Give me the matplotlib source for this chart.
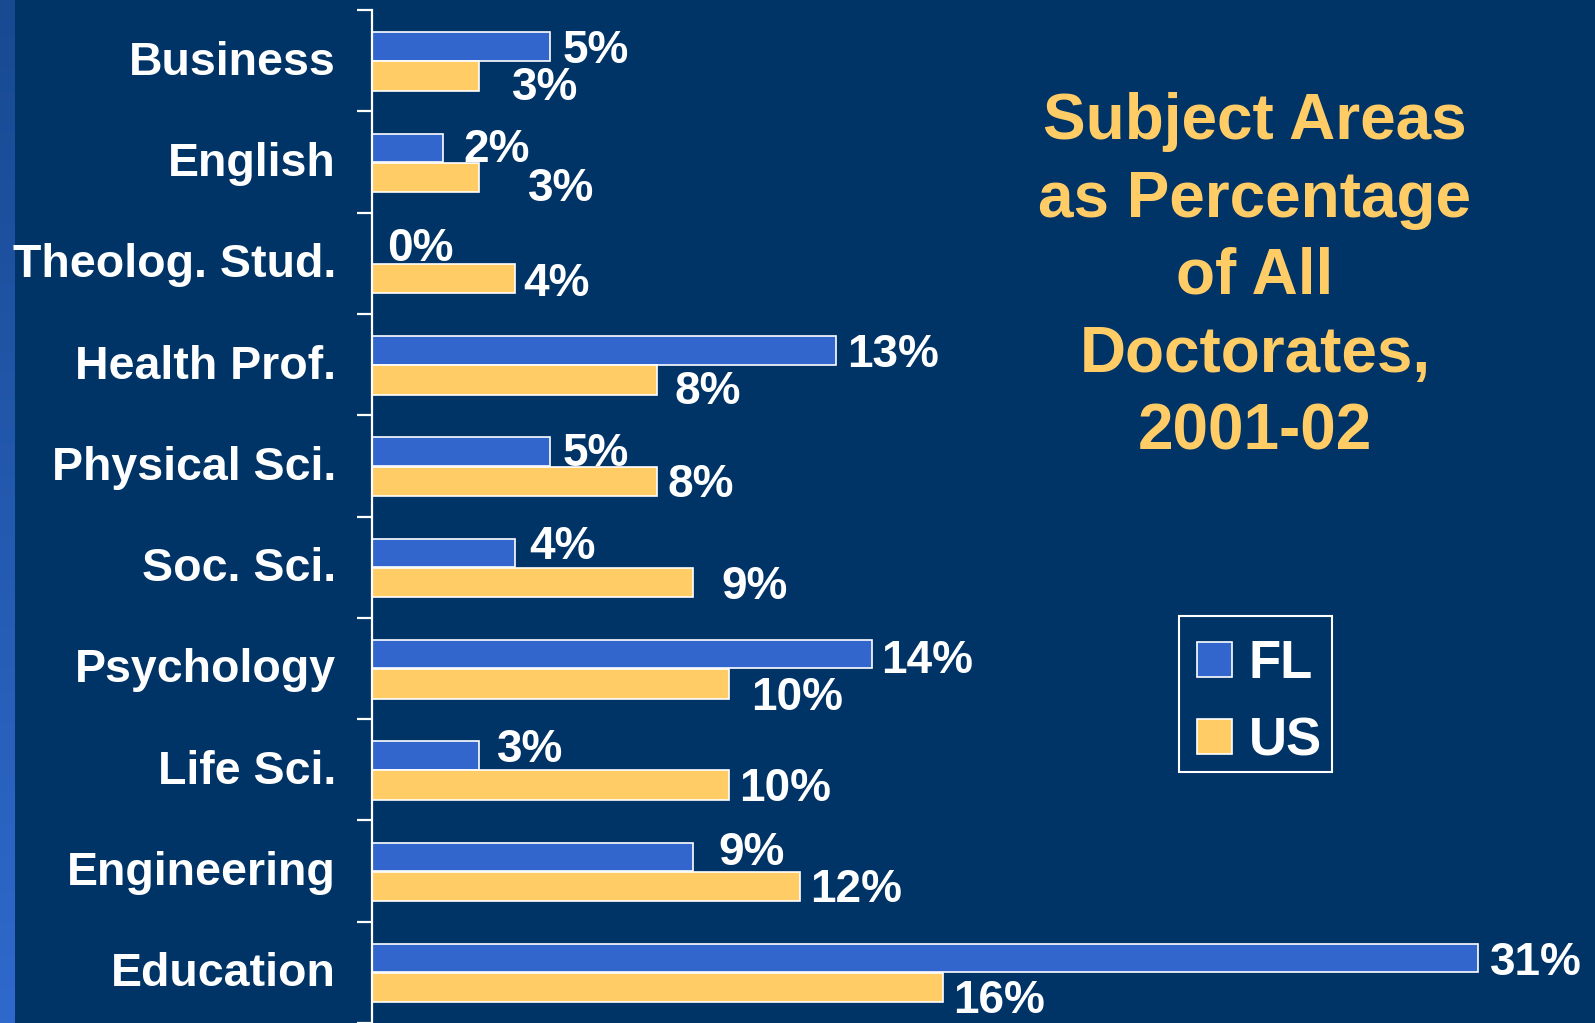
import matplotlib
matplotlib.use("Agg")
import matplotlib.pyplot as plt
import numpy as np
from matplotlib.patches import Rectangle
from matplotlib.transforms import ScaledTranslation
from matplotlib.colors import LinearSegmentedColormap

# ---- data ----
categories = ["Business", "English", "Theolog. Stud.", "Health Prof.", "Physical Sci.",
              "Soc. Sci.", "Psychology", "Life Sci.", "Engineering", "Education"]
fl_values = [5, 2, 0, 13, 5, 4, 14, 3, 9, 31]
us_values = [3, 3, 4, 8, 8, 9, 10, 10, 12, 16]
series_names = ["FL", "US"]
title_lines = ["Subject Areas", "as Percentage", "of All", "Doctorates,", "2001-02"]

# label nudges (pixels) to mimic the original slide's label placement
fl_dx = [12, 20, 15, 11, 12, 15, 10, 18, 25, 12]
us_dx = [33, 49, 9, 17, 10, 28, 22, 10, 10, 10]
fl_dy = [0, -2, -4, 0, -2, -10, 2, -10, -8, 0]
us_dy = [8, 7, 1, 8, -1, 0, 10, -1, -1, 9]

# ---- style ----
W, H, DPI = 1595, 1023, 100
BG = "#003366"
BLUE = "#3366CC"
GOLD = "#FFCC66"
FONT = "Liberation Sans"
plt.rcParams["font.family"] = [FONT, "DejaVu Sans"]
plt.rcParams["font.weight"] = "bold"

PX = 72.0 / DPI  # points per pixel

def fx(px):
    return px / W

def fy(py):
    return 1 - py / H

fig = plt.figure(figsize=(W / DPI, H / DPI), dpi=DPI, facecolor=BG)

# left gradient strip
strip = fig.add_axes([0, 0, fx(15), 1])
grad = np.linspace(0, 1, 256).reshape(-1, 1)
cmap = LinearSegmentedColormap.from_list("strip", ["#184a92", "#2f69cc"])
strip.imshow(grad, aspect="auto", cmap=cmap, extent=[0, 1, 1, 0])
strip.set_axis_off()

ax_left, ax_top = 372, 10
ax = fig.add_axes([fx(ax_left), 0, 1 - fx(ax_left), fy(ax_top)])
ax.set_facecolor(BG)
px_per_pct = 35.68
ax.set_xlim(0, (W - ax_left) / px_per_pct)
n = len(categories)
ax.set_ylim(n - 0.5, -0.5)

y = np.arange(n)
fl_off, us_off = -0.14, 0.152
fl_h, us_h = 0.28, 0.29
ax.barh(y + fl_off, fl_values, height=fl_h, color=BLUE, edgecolor="white",
        linewidth=1.2, label=series_names[0])
ax.barh(y + us_off, us_values, height=us_h, color=GOLD, edgecolor="white",
        linewidth=1.2, label=series_names[1])

LABEL_FS = 33
half_cap = 0.716 * LABEL_FS / PX / 2  # half digit height in px
for i in range(n):
    ax.annotate(f"{fl_values[i]}%", (fl_values[i], y[i] + fl_off),
                xytext=(fl_dx[i] * PX, -(fl_dy[i] + half_cap) * PX),
                textcoords="offset points", ha="left", va="baseline",
                color="white", fontsize=LABEL_FS, fontweight="bold")
    ax.annotate(f"{us_values[i]}%", (us_values[i], y[i] + us_off),
                xytext=(us_dx[i] * PX, -(us_dy[i] + half_cap) * PX),
                textcoords="offset points", ha="left", va="baseline",
                color="white", fontsize=LABEL_FS, fontweight="bold")

# axes styling
for s in ["top", "right", "bottom"]:
    ax.spines[s].set_visible(False)
ax.spines["left"].set_color("white")
ax.spines["left"].set_linewidth(1.6)
ax.set_xticks([])
ax.set_yticks(y)
ax.set_yticklabels(categories, color="white", fontsize=33.5, fontweight="bold")
ax.tick_params(axis="y", which="major", length=0, pad=26)
ax.set_yticks(np.arange(-0.5, n, 1.0), minor=True)
ax.tick_params(axis="y", which="minor", length=10.5, width=1.6, color="white")
shift_up = ScaledTranslation(0, 3 / DPI, fig.dpi_scale_trans)
for lbl in ax.get_yticklabels():
    lbl.set_transform(lbl.get_transform() + shift_up)

# title block
title_baselines = [139, 217, 294, 372, 450]
for line, b in zip(title_lines, title_baselines):
    fig.text(fx(1255), fy(b), line, ha="center", va="baseline", color=GOLD,
             fontsize=46, fontweight="bold")

# legend box
fig.add_artist(Rectangle((fx(1179), fy(772)), fx(1332 - 1179), (772 - 616) / H,
                         transform=fig.transFigure, facecolor="none",
                         edgecolor="white", linewidth=1.5))
for (top, col, name, base) in [(642, BLUE, series_names[0], 678),
                                (719, GOLD, series_names[1], 756)]:
    fig.add_artist(Rectangle((fx(1197), fy(top + 35)), fx(35), 35 / H,
                             transform=fig.transFigure, facecolor=col,
                             edgecolor="white", linewidth=1.2))
    fig.text(fx(1249), fy(base), name, ha="left", va="baseline", color="white",
             fontsize=38, fontweight="bold")

fig.savefig("out.png", dpi=DPI, facecolor=BG)
